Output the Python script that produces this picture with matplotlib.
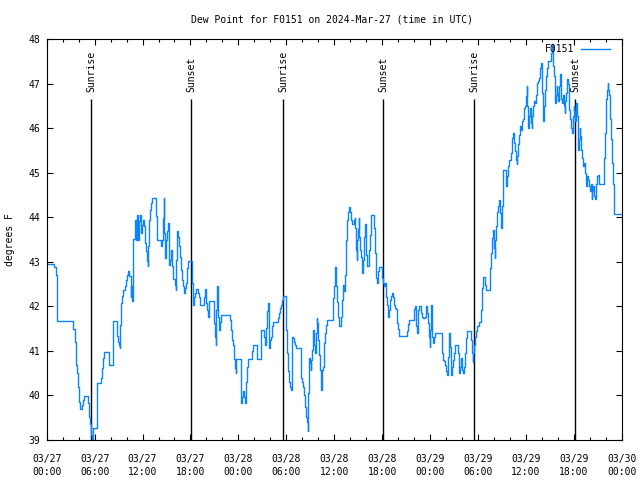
import matplotlib
matplotlib.use('Agg')
import matplotlib.pyplot as plt
from matplotlib.ticker import MultipleLocator

# dew point readings (hours since 03/27 00:00 UTC, degrees F)
mar27 = [
    (0.0, 42.96), (0.92, 42.88), (1.13, 42.71), (1.25, 42.19), (1.29, 41.68), (3.34, 41.49), (3.51, 41.19),
    (3.63, 40.69), (3.80, 40.51), (3.92, 40.20), (4.09, 39.86), (4.22, 39.70), (4.38, 39.79), (4.55, 39.90),
    (4.67, 39.98), (5.22, 39.83), (5.30, 39.52), (5.43, 39.37), (5.55, 39.11), (5.63, 39.00), (5.80, 39.26),
    (6.26, 39.75), (6.30, 40.28), (6.85, 40.39), (6.97, 40.61), (7.10, 40.84), (7.18, 40.97), (7.80, 40.69),
    (8.26, 41.17), (8.35, 41.68), (8.77, 41.33), (8.89, 41.21), (9.02, 41.14), (9.14, 41.06), (9.22, 41.59),
    (9.35, 42.07), (9.47, 42.24), (9.60, 42.37), (9.77, 42.45), (9.98, 42.60), (10.10, 42.71), (10.18, 42.79),
    (10.35, 42.69), (10.52, 42.22), (10.60, 42.45), (10.68, 42.13), (10.77, 42.79), (10.81, 43.51), (11.02, 43.74),
    (11.10, 43.95), (11.19, 43.50), (11.27, 44.06), (11.39, 43.50), (11.56, 43.91), (11.69, 44.06), (11.81, 43.65),
    (11.94, 43.84), (12.06, 43.95), (12.19, 43.81), (12.27, 43.42), (12.44, 43.24), (12.56, 43.01), (12.65, 42.90),
    (12.73, 43.35), (12.81, 43.95), (12.94, 44.17), (13.11, 44.32), (13.19, 44.44), (13.73, 44.03), (13.82, 43.50),
    (14.27, 43.35), (14.44, 43.50), (14.57, 43.99), (14.65, 44.44), (14.73, 43.65), (14.86, 43.09), (14.98, 43.50),
    (15.11, 43.69), (15.19, 43.87), (15.32, 42.94), (15.48, 43.05), (15.61, 43.27), (15.74, 42.90), (15.86, 42.61),
    (16.03, 42.49), (16.15, 42.37), (16.24, 43.05), (16.32, 43.69), (16.44, 43.57), (16.57, 43.35), (16.70, 43.12),
    (16.82, 42.82), (16.95, 42.60), (17.11, 42.45), (17.20, 42.30), (17.32, 42.41), (17.45, 42.52), (17.61, 42.86),
    (17.74, 43.03), (18.24, 42.52), (18.32, 42.04), (18.40, 42.22), (18.53, 42.30), (18.65, 42.39), (18.90, 42.30),
    (19.03, 42.22), (19.15, 42.04), (19.74, 42.22), (19.86, 42.39), (19.99, 42.07), (20.07, 41.92), (20.20, 41.77),
    (20.32, 42.13), (20.90, 41.92), (20.99, 41.62), (21.07, 41.32), (21.16, 41.14), (21.24, 41.92), (21.32, 42.45),
    (21.41, 42.26), (21.49, 41.77), (21.61, 41.47), (21.70, 41.66), (21.78, 41.81), (22.95, 41.70), (23.08, 41.47),
    (23.20, 41.25), (23.33, 41.14), (23.41, 41.02), (23.49, 40.81), (23.58, 40.61), (23.66, 40.50), (23.74, 40.81),
]
mar28 = [
    (24.29, 40.31), (24.37, 39.82), (24.45, 39.97), (24.58, 40.09), (24.70, 39.97), (24.83, 39.82), (24.91, 40.12),
    (24.99, 40.31), (25.12, 40.65), (25.25, 40.81), (25.75, 40.99), (25.87, 41.14), (26.29, 40.99), (26.37, 40.81),
    (26.79, 41.17), (26.87, 41.47), (27.25, 41.32), (27.37, 41.14), (27.46, 41.51), (27.58, 41.89), (27.71, 42.07),
    (27.79, 41.62), (27.88, 41.06), (27.96, 41.25), (28.08, 41.32), (28.21, 41.55), (28.33, 41.66), (28.92, 41.74),
    (29.04, 41.85), (29.17, 41.96), (29.29, 42.04), (29.42, 42.15), (29.54, 42.24), (29.92, 42.00), (30.00, 41.47),
    (30.09, 40.95), (30.21, 40.54), (30.34, 40.31), (30.46, 40.20), (30.59, 40.12), (30.67, 40.72), (30.75, 41.32),
    (30.84, 41.29), (30.96, 41.21), (31.09, 41.14), (31.21, 41.06), (31.84, 40.39), (31.97, 40.31), (32.09, 40.20),
    (32.22, 40.01), (32.34, 39.75), (32.47, 39.52), (32.59, 39.41), (32.67, 39.21), (32.76, 40.05), (32.84, 40.84),
    (32.93, 40.72), (33.05, 40.57), (33.13, 40.80), (33.22, 41.02), (33.34, 41.47), (33.47, 41.14), (33.59, 40.95),
    (33.68, 41.40), (33.80, 41.75), (33.89, 41.62), (34.01, 41.25), (34.14, 40.91), (34.26, 40.57), (34.34, 40.12),
    (34.43, 40.42), (34.51, 40.57), (34.64, 40.65), (34.76, 41.17), (34.89, 41.40), (35.01, 41.59), (35.14, 41.70),
    (35.80, 41.85), (35.89, 42.19), (36.01, 42.45), (36.10, 42.88), (36.19, 42.71), (36.27, 42.45), (36.39, 42.11),
    (36.48, 41.77), (36.56, 41.56), (36.89, 41.77), (36.98, 42.15), (37.10, 42.49), (37.19, 42.45), (37.27, 42.34),
    (37.35, 42.71), (37.44, 42.97), (37.52, 43.50), (37.60, 43.95), (37.69, 44.11), (37.81, 44.23), (37.94, 44.11),
    (38.06, 43.95), (38.19, 43.86), (38.48, 43.94), (38.56, 43.98), (38.65, 43.76), (38.73, 43.27), (38.81, 43.05),
    (38.90, 43.50), (38.98, 43.74), (39.06, 43.99), (39.15, 43.57), (39.23, 43.27), (39.36, 43.12), (39.44, 42.84),
    (39.52, 42.75), (39.61, 43.05), (39.73, 43.57), (39.86, 43.85), (39.94, 43.57), (40.02, 43.16), (40.11, 42.91),
    (40.40, 43.27), (40.48, 43.61), (40.57, 44.06), (40.98, 43.76), (41.07, 43.20), (41.19, 42.83), (41.28, 42.64),
    (41.36, 42.52), (41.44, 42.64), (41.53, 42.79), (41.61, 42.88), (41.94, 42.75), (42.03, 42.64), (42.11, 42.52),
    (42.24, 42.45), (42.32, 42.52), (42.45, 42.37), (42.53, 42.22), (42.61, 42.04), (42.70, 41.89), (42.78, 41.77),
    (42.86, 41.92), (42.99, 42.15), (43.07, 42.24), (43.24, 42.30), (43.36, 42.22), (43.45, 42.04), (43.57, 41.96),
    (43.70, 41.94), (43.82, 41.77), (43.90, 41.62), (43.99, 41.49), (44.07, 41.34), (45.16, 41.44), (45.24, 41.60),
    (45.37, 41.70), (45.95, 41.81), (46.04, 41.95), (46.12, 42.01), (46.20, 41.74), (46.29, 41.56), (46.37, 41.41),
    (46.45, 41.77), (46.54, 41.92), (46.66, 42.01), (46.79, 42.00), (46.91, 41.85), (47.04, 41.77), (47.16, 41.74),
    (47.33, 41.77), (47.45, 41.92), (47.54, 42.01), (47.62, 41.85), (47.70, 41.77), (47.79, 41.62), (47.87, 41.32),
    (47.95, 41.10),
]
mar29 = [
    (48.04, 41.47), (48.12, 42.04), (48.20, 41.77), (48.29, 41.32), (48.37, 41.17), (48.46, 41.32), (48.58, 41.41),
    (49.46, 41.17), (49.54, 40.95), (49.62, 40.80), (49.75, 40.78), (49.87, 40.69), (50.00, 40.54), (50.12, 40.46),
    (50.25, 40.87), (50.38, 41.41), (50.50, 41.10), (50.63, 40.46), (50.71, 40.65), (50.83, 40.80), (50.96, 40.95),
    (51.08, 41.13), (51.50, 40.95), (51.59, 40.65), (51.67, 40.50), (51.75, 40.65), (51.88, 40.84), (52.00, 40.57),
    (52.13, 40.50), (52.21, 40.65), (52.34, 40.95), (52.46, 41.14), (52.55, 41.29), (52.63, 41.44), (53.17, 41.25),
    (53.26, 40.95), (53.34, 40.76), (53.42, 40.95), (53.50, 41.14), (53.63, 41.32), (53.76, 41.44), (53.92, 41.55),
    (54.09, 41.66), (54.43, 41.92), (54.51, 42.41), (54.64, 42.66), (54.93, 42.49), (55.06, 42.36), (55.47, 42.52),
    (55.56, 42.86), (55.64, 43.20), (55.77, 43.54), (55.89, 43.72), (56.02, 43.31), (56.10, 43.09), (56.18, 43.50),
    (56.27, 43.80), (56.35, 44.11), (56.48, 44.25), (56.60, 44.40), (56.73, 44.10), (56.85, 43.95), (56.94, 43.76),
    (57.02, 44.25), (57.10, 44.74), (57.19, 45.07), (57.48, 44.85), (57.56, 44.70), (57.69, 44.92), (57.81, 45.15),
    (57.90, 45.30), (58.19, 45.45), (58.31, 45.79), (58.40, 45.90), (58.48, 45.67), (58.60, 45.49), (58.73, 45.30),
    (58.85, 45.19), (58.94, 45.37), (59.06, 45.64), (59.19, 45.86), (59.31, 46.05), (59.44, 45.97), (59.56, 46.16),
    (59.69, 46.20), (59.81, 46.46), (59.94, 46.50), (60.02, 46.72), (60.11, 46.95), (60.19, 46.50), (60.27, 46.01),
    (60.36, 46.27), (60.48, 46.46), (60.61, 46.12), (60.73, 46.01), (60.82, 46.27), (60.94, 46.50), (61.07, 46.61),
    (61.19, 46.57), (61.32, 46.76), (61.44, 47.02), (61.53, 47.06), (61.65, 47.14), (61.73, 47.17), (61.82, 47.36),
    (61.90, 47.47), (61.99, 47.17), (62.07, 46.80), (62.15, 46.16), (62.24, 46.50), (62.36, 46.87), (62.49, 47.17),
    (62.61, 47.36), (62.74, 47.51), (63.20, 47.70), (63.28, 47.89), (63.36, 47.62), (63.45, 47.40), (63.53, 47.17),
    (63.61, 46.95), (63.70, 46.57), (63.78, 46.76), (63.86, 46.95), (63.95, 46.80), (64.03, 46.61), (64.11, 46.72),
    (64.20, 46.95), (64.28, 47.21), (64.36, 46.95), (64.45, 46.65), (64.53, 46.57), (64.66, 46.76), (64.78, 46.50),
    (64.86, 46.35), (64.95, 46.61), (65.07, 46.80), (65.20, 47.10), (65.28, 46.99), (65.37, 46.61), (65.45, 46.42),
    (65.58, 46.20), (65.70, 46.01), (65.83, 45.90), (65.91, 46.27), (66.00, 46.50), (66.07, 46.39), (66.16, 46.16),
    (66.24, 46.50), (66.33, 46.57), (66.41, 46.27), (66.49, 45.90), (66.58, 45.52), (66.66, 45.75), (66.74, 46.01),
    (66.83, 45.82), (66.91, 45.52), (67.04, 45.34), (67.16, 45.15), (67.29, 45.22), (67.37, 45.00), (67.50, 44.92),
    (67.58, 44.70), (67.70, 44.92), (67.83, 44.85), (67.95, 44.70), (68.08, 44.59), (68.16, 44.74), (68.25, 44.41),
    (68.33, 44.59), (68.41, 44.70), (68.50, 44.59), (68.58, 44.47), (68.66, 44.41), (68.75, 44.55), (68.83, 44.74),
    (68.91, 44.92), (69.04, 44.96), (69.16, 44.74), (69.75, 44.92), (69.83, 45.34), (69.91, 45.90), (70.00, 46.42),
    (70.08, 46.65), (70.16, 46.87), (70.25, 47.01), (70.33, 46.87), (70.41, 46.76), (70.50, 46.50), (70.58, 46.20),
    (70.70, 45.75), (70.83, 45.22), (70.92, 44.74), (71.00, 44.33), (71.08, 44.08), (72.00, 44.08),
]

station = 'F0151'
sunrise_hours = [5.55, 29.6, 53.5]
sunset_hours = [18.07, 42.1, 66.16]
tick_hours = [0, 6, 12, 18, 24, 30, 36, 42, 48, 54, 60, 66, 72]
tick_labels = ['03/27\n00:00', '03/27\n06:00', '03/27\n12:00', '03/27\n18:00',
               '03/28\n00:00', '03/28\n06:00', '03/28\n12:00', '03/28\n18:00',
               '03/29\n00:00', '03/29\n06:00', '03/29\n12:00', '03/29\n18:00',
               '03/30\n00:00']

plt.rcParams['font.family'] = 'DejaVu Sans Mono'
plt.rcParams['font.size'] = 7

fig = plt.figure(figsize=(6.4, 4.8), dpi=100)
ax = fig.add_axes([46.7/640, 40/480, 575/640, 400.7/480])

readings = mar27 + mar28 + mar29
hours = [r[0] for r in readings]
dew = [r[1] for r in readings]

# sunrise / sunset markers
for h in sunrise_hours:
    ax.vlines(h, 39, 46.66, color='black', lw=1)
    ax.text(h, 46.82, 'Sunrise', rotation=90, ha='center', va='bottom')
for h in sunset_hours:
    ax.vlines(h, 39, 46.66, color='black', lw=1)
    ax.text(h, 46.82, 'Sunset', rotation=90, ha='center', va='bottom')

ax.plot(hours, dew, drawstyle='steps-post', color='#0a84ff', lw=1, label=station)

ax.set_xlim(0, 72)
ax.set_ylim(39, 48)
ax.set_xticks(tick_hours)
ax.set_xticklabels(tick_labels, linespacing=1.4)
ax.xaxis.set_minor_locator(MultipleLocator(2))
ax.yaxis.set_major_locator(MultipleLocator(1))
ax.tick_params(which='both', direction='in', top=True, right=True, width=0.8)
ax.tick_params(which='major', length=4)
ax.tick_params(which='minor', length=2.3)
ax.tick_params(axis='x', pad=10)
ax.tick_params(axis='y', pad=5)
for s in ax.spines.values():
    s.set_linewidth(0.8)

ax.legend(loc='upper right', bbox_to_anchor=((610 - 46.7)/575, (440 - 44)/400.7),
          frameon=False, markerfirst=False, handlelength=3.0, handletextpad=0.7,
          borderpad=0, borderaxespad=0)

fig.text(332/640, 1 - 19/480, 'Dew Point for F0151 on 2024-Mar-27 (time in UTC)',
         ha='center', va='center')
fig.text(10/640, 0.5, 'degrees F', rotation=90, ha='center', va='center')

fig.savefig('out.png', dpi=100)
